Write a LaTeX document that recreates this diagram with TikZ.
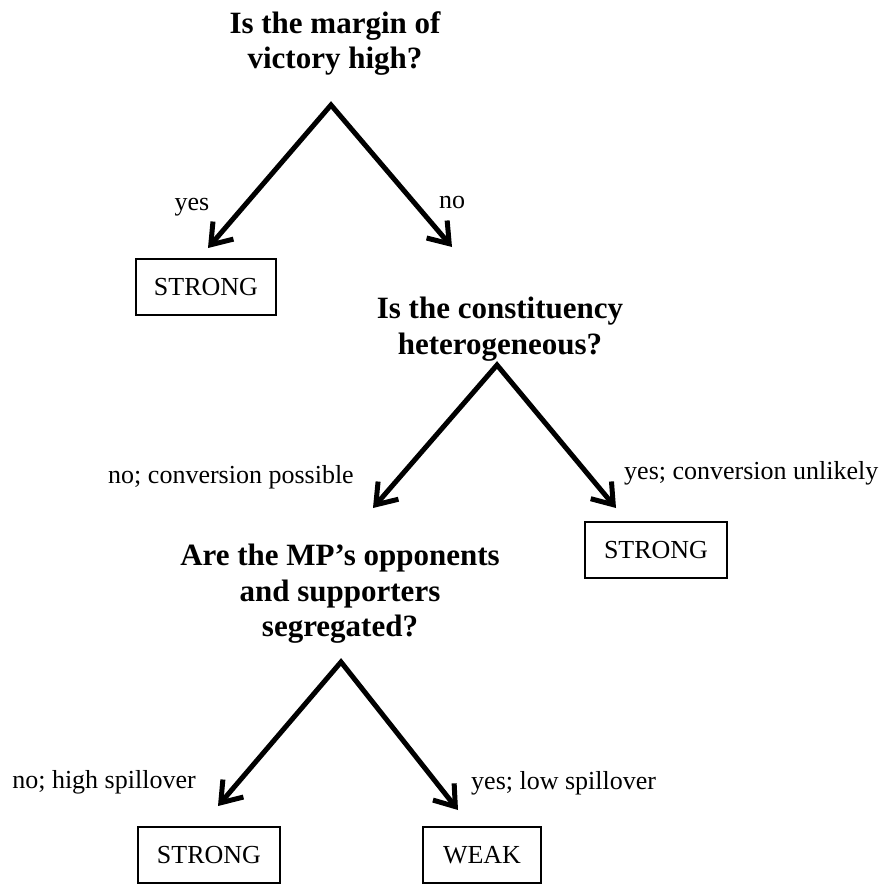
\documentclass[tikz,border=0pt]{standalone}
\usepackage{fontspec}
\setmainfont{Liberation Serif}
\usetikzlibrary{arrows.meta}
\tikzset{
  question/.style={font=\bfseries\fontsize{31}{35.5}\selectfont, align=center, inner sep=0pt, anchor=north},
  answer/.style={draw, line width=1.5pt, font=\fontsize{26}{31}\selectfont, minimum height=56pt, inner sep=0pt},
  branchlabel/.style={font=\fontsize{26}{31}\selectfont, inner sep=0pt},
  branch/.style={line width=5pt, line join=miter,
    {Straight Barb[length=19pt,width=27pt]}-{Straight Barb[length=19pt,width=27pt]}},
}
\begin{document}
\begin{tikzpicture}[x=1pt,y=-1pt]
\useasboundingbox (0,0) rectangle (888,883);

% questions
\node[question] (q1) at (335,11) {Is the margin of\\victory high?};
\node[question] (q2) at (500,297) {Is the constituency\\heterogeneous?};
\node[question] (q3) at (340,544) {Are the MP’s opponents\\and supporters\\segregated?};

% answers
\node[answer, minimum width=140pt] (s1) at (206,287) {STRONG};
\node[answer, minimum width=142pt] (s2) at (656,550) {STRONG};
\node[answer, minimum width=142pt] (s3) at (209,855) {STRONG};
\node[answer, minimum width=118pt] (w1) at (482,855) {WEAK};

% apexes and arrow tips
\coordinate (a1) at (331,105);
\coordinate (t1l) at (208,248);
\coordinate (t1r) at (452,247);
\coordinate (a2) at (497,365);
\coordinate (t2l) at (373,508);
\coordinate (t2r) at (616,508);
\coordinate (a3) at (341,662);
\coordinate (t3l) at (218,806);
\coordinate (t3r) at (458,810);

\draw[branch] (t1l) -- (a1) -- (t1r);
\draw[branch] (t2l) -- (a2) -- (t2r);
\draw[branch] (t3l) -- (a3) -- (t3r);

% branch labels
\node[branchlabel] (l1) at (192,207) {yes};
\node[branchlabel] (l2) at (452,202) {no};
\node[branchlabel] (l3) at (231,477) {no; conversion possible};
\node[branchlabel, anchor=west] (l4) at (624,473) {yes; conversion unlikely};
\node[branchlabel] (l5) at (104,782) {no; high spillover};
\node[branchlabel, anchor=west] (l6) at (471,783) {yes; low spillover};
\end{tikzpicture}
\end{document}
